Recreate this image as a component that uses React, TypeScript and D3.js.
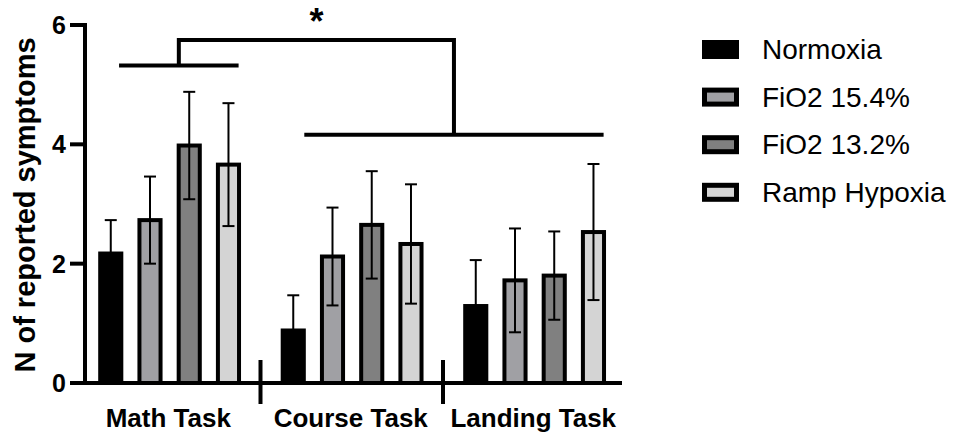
import React from "react";
import * as d3 from "d3";

const categories = ["Math Task", "Course Task", "Landing Task"];
const series = ["Normoxia", "FiO2 15.4%", "FiO2 13.2%", "Ramp Hypoxia"];
const colors = ["#000000", "#a0a0a4", "#808080", "#d4d4d4"];
// means per series (rows) across categories
const means = [
  [2.17, 0.88, 1.29],
  [2.73, 2.12, 1.72],
  [3.98, 2.65, 1.8],
  [3.66, 2.33, 2.53],
];
const errors = [
  [0.56, 0.59, 0.77],
  [0.73, 0.82, 0.87],
  [0.9, 0.9, 0.74],
  [1.03, 1.0, 1.14],
];
const yTicks = [0, 2, 4, 6];
const yLabel = "N of reported symptoms";
const sigLabel = "*";
// significance bracket levels (data units)
const bracketTop = 5.75;
const bracketLeftLevel = 5.32;
const bracketRightLevel = 4.16;

const W = 958;
const H = 434;
const FONT = "'Liberation Sans', Arial, Helvetica, sans-serif";

export default function App() {
  const y = d3.scaleLinear().domain([0, 6]).range([383, 25]);
  const x0 = d3.scaleBand<string>().domain(categories).range([78, 625.5]).padding(0);
  const bw0 = x0.bandwidth();
  const x1 = d3
    .scaleBand<string>()
    .domain(series)
    .range([bw0 * 0.072, bw0 * 0.932])
    .paddingInner(0.36)
    .paddingOuter(0.18);
  const bw = x1.bandwidth();
  const axisX = 85;
  const axisEnd = 622;
  const sw = 4;

  // bracket x positions
  const lx1 = (x0(categories[0]) as number) + bw0 * 0.225;
  const lx2 = (x0(categories[0]) as number) + bw0 * 0.88;
  const rx1 = (x0(categories[1]) as number) + bw0 * 0.24;
  const rx2 = (x0(categories[2]) as number) + bw0 * 0.88;
  const lmid = (lx1 + lx2) / 2;
  const rmid = (rx1 + rx2) / 2;

  return (
    <svg
      width={W}
      height={H}
      style={{ position: "absolute", left: 0, top: 0, background: "#fff" }}
      fontFamily={FONT}
    >
      <rect width={W} height={H} fill="#fff" />
      {/* bars */}
      {categories.map((c, ci) => (
        <g key={c} transform={`translate(${x0(c)},0)`}>
          {series.map((s, si) => {
            const v = means[si][ci];
            const e = errors[si][ci];
            const bx = x1(s) as number;
            const cx = bx + bw / 2;
            return (
              <g key={s}>
                <rect
                  x={bx + sw / 2}
                  y={y(v)}
                  width={bw - sw}
                  height={y(0) - y(v)}
                  fill={colors[si]}
                  stroke="#000"
                  strokeWidth={sw}
                />
                <line x1={cx} x2={cx} y1={y(v - e)} y2={y(v + e)} stroke="#000" strokeWidth={2} />
                <line x1={cx - 6} x2={cx + 6} y1={y(v + e)} y2={y(v + e)} stroke="#000" strokeWidth={2} />
                <line x1={cx - 6} x2={cx + 6} y1={y(v - e)} y2={y(v - e)} stroke="#000" strokeWidth={2} />
              </g>
            );
          })}
        </g>
      ))}
      {/* y axis */}
      <line x1={axisX} x2={axisX} y1={y(6) - 2} y2={y(0)} stroke="#000" strokeWidth={sw} />
      {yTicks.map((t) => (
        <g key={t}>
          <line x1={70} x2={axisX} y1={y(t)} y2={y(t)} stroke="#000" strokeWidth={sw} />
          <text x={66} y={y(t) + 9} textAnchor="end" fontSize={25} fontWeight="bold">
            {t}
          </text>
        </g>
      ))}
      {/* x axis */}
      <line x1={axisX} x2={axisEnd} y1={y(0)} y2={y(0)} stroke="#000" strokeWidth={sw} />
      {categories.slice(1).map((c) => (
        <line
          key={c}
          x1={x0(c)}
          x2={x0(c)}
          y1={y(0) - 23}
          y2={y(0) + 21}
          stroke="#000"
          strokeWidth={sw}
        />
      ))}
      {categories.map((c) => (
        <text
          key={c}
          x={(x0(c) as number) + bw0 / 2 - 1}
          y={427}
          textAnchor="middle"
          fontSize={26}
          fontWeight="bold"
        >
          {c}
        </text>
      ))}
      {/* y label */}
      <text
        transform={`translate(35,${(y(0) + y(6)) / 2 + 1}) rotate(-90)`}
        textAnchor="middle"
        fontSize={29}
        fontWeight="bold"
      >
        {yLabel}
      </text>
      {/* significance brackets */}
      <g stroke="#000" strokeWidth={sw} fill="none">
        <line x1={lx1} x2={lx2} y1={y(bracketLeftLevel)} y2={y(bracketLeftLevel)} />
        <line x1={rx1} x2={rx2} y1={y(bracketRightLevel)} y2={y(bracketRightLevel)} />
        <path
          d={`M${lmid},${y(bracketLeftLevel)}V${y(bracketTop)}H${rmid}V${y(bracketRightLevel)}`}
          strokeLinejoin="miter"
        />
      </g>
      <text x={(lmid + rmid) / 2} y={34} textAnchor="middle" fontSize={36} fontWeight="bold">
        {sigLabel}
      </text>
      {/* legend */}
      {series.map((s, i) => {
        const cy = 49.5 + i * 47.6;
        return (
          <g key={s}>
            <rect
              x={702 + 2.5}
              y={cy - 9.5 + 2.5}
              width={37 - 5}
              height={19 - 5}
              fill={colors[i]}
              stroke="#000"
              strokeWidth={5}
            />
            <text x={762} y={cy + 9.5} fontSize={28}>
              {s}
            </text>
          </g>
        );
      })}
    </svg>
  );
}
